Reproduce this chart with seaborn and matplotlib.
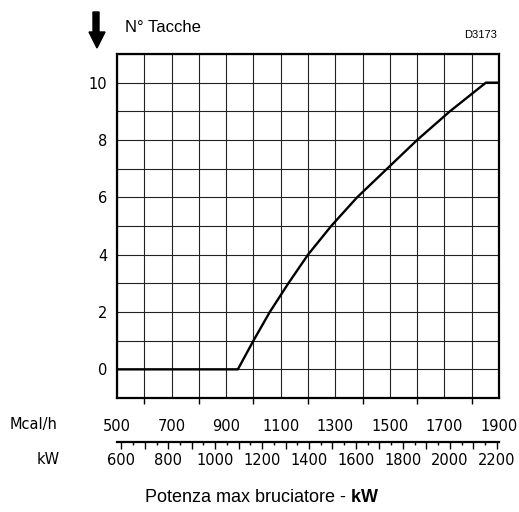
import numpy as np
import pandas as pd
import matplotlib
matplotlib.use("Agg")
import matplotlib.pyplot as plt
from matplotlib.patches import Polygon
import seaborn as sns

# curve
mcal_h = [500, 943, 1000, 1060, 1128, 1200, 1285, 1380, 1490, 1600, 1720, 1852, 1900]
tacche = [0, 0, 1, 2, 3, 4, 5, 6, 7, 8, 9, 10, 10]

mcal_ticks = list(range(500, 1901, 100))
mcal_labels = [500, 700, 900, 1100, 1300, 1500, 1700, 1900]
y_labels = [0, 2, 4, 6, 8, 10]
kw_major = list(range(600, 2201, 100))
kw_minor = list(range(650, 2151, 100))
kw_labels = list(range(600, 2201, 200))
kw_per_mcal = 1.163

sns.set_style("white")
plt.rcParams['font.family'] = ['Liberation Sans', 'DejaVu Sans']
plt.rcParams['mathtext.fontset'] = 'custom'
plt.rcParams['mathtext.rm'] = 'Liberation Sans'
plt.rcParams['mathtext.bf'] = 'Liberation Sans:bold'
for k in ['text.color', 'xtick.color', 'ytick.color', 'axes.labelcolor', 'axes.edgecolor']:
    plt.rcParams[k] = 'black'

W, H = 519, 512
fig = plt.figure(figsize=(W / 100, H / 100), dpi=100)
ax = fig.add_axes([117 / W, 1 - 398 / H, 382 / W, 344 / H])

df = pd.DataFrame({"mcal": mcal_h, "tacche": tacche})
sns.lineplot(data=df, x="mcal", y="tacche", ax=ax, color="black", lw=1.7, zorder=3)

ax.set_xlim(500, 1900)
ax.set_ylim(-1, 11)
ax.set_xlabel("")
ax.set_ylabel("")

tick_font = dict(family="DejaVu Sans", size=10.5)

ax.set_xticks(mcal_ticks)
ax.set_xticklabels([str(v) if v in mcal_labels else "" for v in mcal_ticks], fontdict=tick_font)
ax.tick_params(axis="x", direction="out", length=4, width=1, pad=11, color="black", bottom=True)
for v, t in zip(mcal_ticks, ax.xaxis.get_major_ticks()):
    if v in mcal_labels:
        t.tick1line.set_visible(False)

y_ticks = list(range(-1, 12))
ax.set_yticks(y_ticks)
ax.set_yticklabels([str(v) if v in y_labels else "" for v in y_ticks], fontdict=tick_font)
ax.tick_params(axis="y", length=0, pad=7)

ax.grid(True, color="#222222", lw=0.8)
for s in ax.spines.values():
    s.set_linewidth(1.6)
    s.set_color("black")

# kW scale
ax2 = fig.add_axes([117 / W, 1 - 442 / H, 382 / W, 0.0001])
ax2.set_xlim(500 * kw_per_mcal, 1900 * kw_per_mcal)
ax2.set_yticks([])
for k in ["top", "left", "right"]:
    ax2.spines[k].set_visible(False)
ax2.spines["bottom"].set_linewidth(1.6)
ax2.set_xticks(kw_major)
ax2.set_xticklabels([str(v) if v in kw_labels else "" for v in kw_major], fontdict=tick_font)
ax2.set_xticks(kw_minor, minor=True)
ax2.tick_params(axis="x", which="major", direction="out", length=5, width=1, pad=3, bottom=True)
ax2.tick_params(axis="x", which="minor", direction="out", length=2.5, width=1, bottom=True)
ax2.patch.set_visible(False)

# texts
fig.text(125 / W, 1 - 27 / H, "N° Tacche", fontsize=12, ha="left", va="center")
fig.text(497 / W, 1 - 35 / H, "D3173", fontsize=8, ha="right", va="center")
fig.text(10 / W, 1 - 425 / H, "Mcal/h", family="DejaVu Sans", fontsize=10.5, ha="left", va="center")
fig.text(37 / W, 1 - 459 / H, "kW", family="DejaVu Sans", fontsize=10.5, ha="left", va="center")
fig.text(262 / W, 1 - 497 / H, r"Potenza max bruciatore - $\mathbf{kW}$", fontsize=13,
         ha="center", va="center")

# down arrow
pts = [(93, 12), (99, 12), (99, 32), (105, 32), (97, 48), (89, 32), (93, 32)]
pts = [(x / 100, (H - y) / 100) for x, y in pts]
fig.patches.append(Polygon(pts, closed=True, color="black", transform=fig.dpi_scale_trans))

fig.savefig("out.png", dpi=100)
